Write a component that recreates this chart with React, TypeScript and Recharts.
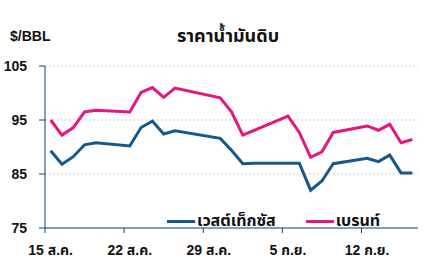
import React from "react";
import { LineChart, Line, XAxis, YAxis, CartesianGrid, Legend } from "recharts";

const dates = [
  "2022-08-15", "2022-08-16", "2022-08-17", "2022-08-18", "2022-08-19",
  "2022-08-22", "2022-08-23", "2022-08-24", "2022-08-25", "2022-08-26",
  "2022-08-30", "2022-08-31", "2022-09-01", "2022-09-02",
  "2022-09-05", "2022-09-06", "2022-09-07", "2022-09-08", "2022-09-09",
  "2022-09-12", "2022-09-13", "2022-09-14", "2022-09-15", "2022-09-16",
];
const wti = [89.3, 86.8, 88.2, 90.4, 90.8, 90.2, 93.6, 94.8, 92.4, 93.0, 91.6, 89.4, 86.9, 87.0, 87.0, 87.0, 82.0, 83.7, 86.9, 87.9, 87.3, 88.5, 85.2, 85.2];
const brent = [95.0, 92.2, 93.6, 96.5, 96.8, 96.5, 100.1, 101.0, 99.2, 100.9, 99.1, 96.5, 92.2, 93.1, 95.7, 92.7, 88.1, 89.1, 92.7, 93.9, 93.1, 94.2, 90.8, 91.4];
const seriesNames = ["เวสต์เท็กซัส", "เบรนท์"];
const tickDays = [0, 7, 14, 21, 28];
const tickLabels = ["15 ส.ค.", "22 ส.ค.", "29 ส.ค.", "5 ก.ย.", "12 ก.ย."];
const yTicks = [75, 85, 95, 105];

const FONT = "'Liberation Sans', Arial, 'Noto Sans Thai', sans-serif";
const NAVY = "#1c3d6e";
const BLUE = "#17588c";
const PINK = "#e5177f";

const DAY = 86400000;
const start = Date.parse(dates[0]);
// x = day offset from 15 Aug, centred in its day slot
const data = dates.map((d, i) => ({ x: (Date.parse(d) - start) / DAY + 0.5, wti: wti[i], brent: brent[i] }));

/* eslint-disable @typescript-eslint/no-explicit-any */
function XTick({ x, y, payload }: any) {
  const i = tickDays.indexOf(payload.value);
  // label sits in the middle of the day, tick on its left edge
  const half = 373 / 33 / 2;
  return (
    <text x={x + half} y={y} dy={20} textAnchor="middle" fontFamily={FONT} fontSize={14} fontWeight={700} fill="#111">
      {tickLabels[i]}
    </text>
  );
}

function LegendBox({ payload }: any) {
  const items = [...(payload || [])].sort((a: any, b: any) => seriesNames.indexOf(a.value) - seriesNames.indexOf(b.value));
  return (
    <div style={{ display: "flex", alignItems: "center", fontFamily: FONT, fontWeight: 700, fontSize: 16, color: "#111" }}>
      {items.map((p: any, i: number) => (
        <div key={p.value} style={{ display: "flex", alignItems: "center", marginRight: i === 0 ? 30 : 0 }}>
          <span style={{ display: "inline-block", width: 28, height: 3, background: p.color, marginRight: 2 }} />
          <span>{p.value}</span>
        </div>
      ))}
    </div>
  );
}
/* eslint-enable @typescript-eslint/no-explicit-any */

export default function App() {
  return (
    <div style={{ position: "absolute", left: 0, top: 0, width: 432, height: 276, background: "#fff" }}>
      <div style={{ position: "absolute", left: 10, top: 28, fontFamily: FONT, fontWeight: 700, fontSize: 14, color: "#111" }}>$/BBL</div>
      <div style={{ position: "absolute", left: 0, width: 456, top: 23, textAlign: "center", fontFamily: FONT, fontWeight: 700, fontSize: 18, color: "#111" }}>
        ราคาน้ำมันดิบ
      </div>
      <LineChart width={432} height={276} data={data} margin={{ top: 66, right: 14, left: 0, bottom: 18 }}>
        <CartesianGrid vertical={false} stroke="#cfcfcf" strokeDasharray="2 2" />
        <XAxis
          dataKey="x"
          type="number"
          domain={[0, 33]}
          ticks={tickDays}
          interval={0}
          height={30}
          tickSize={5}
          axisLine={{ stroke: "#7f9fc2", strokeWidth: 2 }}
          tickLine={{ stroke: NAVY }}
          tick={<XTick />}
        />
        <YAxis
          type="number"
          domain={[75, 105]}
          ticks={yTicks}
          width={45}
          tickSize={6}
          tickMargin={12}
          axisLine={{ stroke: NAVY }}
          tickLine={{ stroke: NAVY }}
          tick={{ fill: "#111", fontSize: 14, fontWeight: 700, fontFamily: FONT }}
        />
        <Legend
          layout="vertical"
          align="center"
          verticalAlign="middle"
          wrapperStyle={{ left: 167, top: 209, width: 250 }}
          content={<LegendBox />}
        />
        <Line dataKey="wti" name={seriesNames[0]} stroke={BLUE} strokeWidth={3} dot={false} isAnimationActive={false} />
        <Line dataKey="brent" name={seriesNames[1]} stroke={PINK} strokeWidth={3} dot={false} isAnimationActive={false} />
      </LineChart>
    </div>
  );
}
